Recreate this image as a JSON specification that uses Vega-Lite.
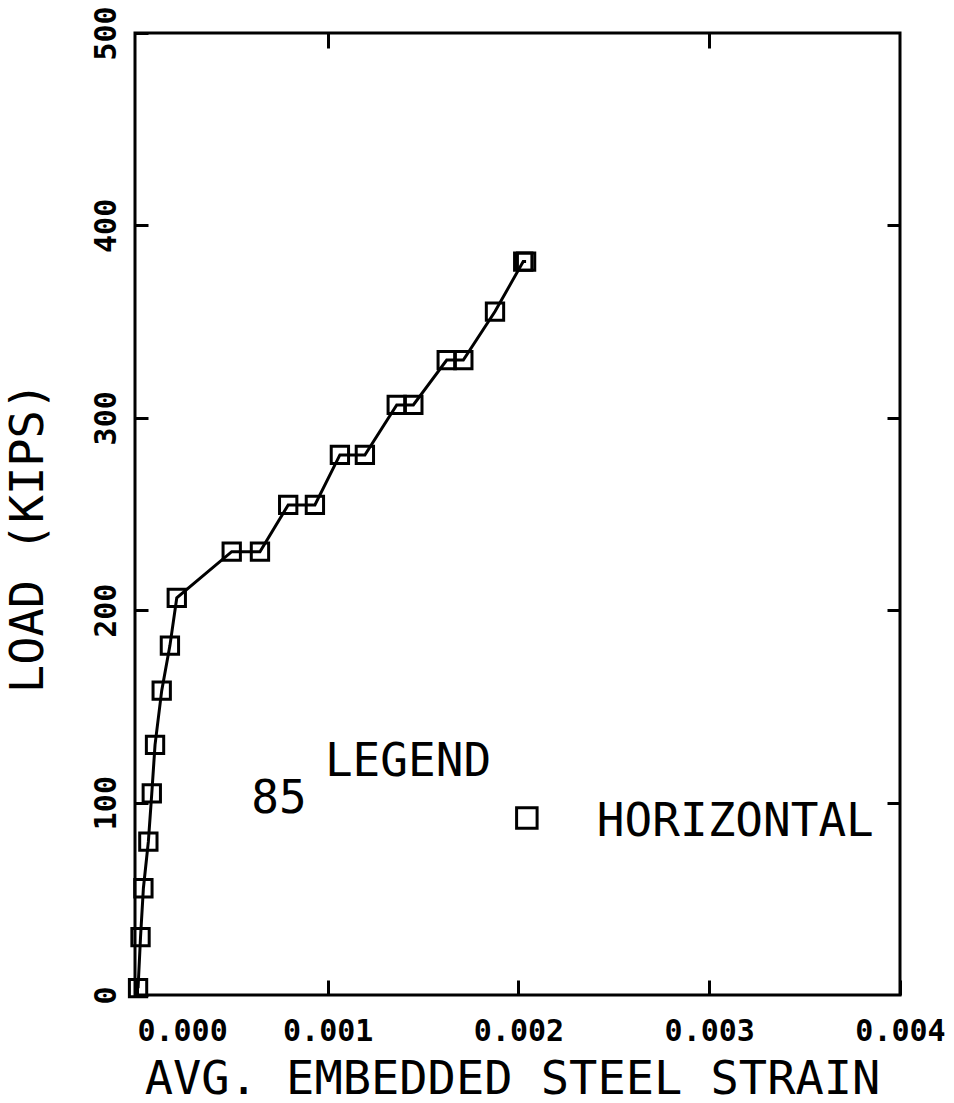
{
  "$schema": "https://vega.github.io/schema/vega-lite/v6.json",
  "width": 765,
  "height": 962,
  "autosize": {"type": "none"},
  "padding": {"left": 135, "top": 33, "right": 54, "bottom": 108},
  "background": "white",
  "config": {
    "view": {"stroke": "black", "strokeWidth": 3},
    "font": "DejaVu Sans Mono",
    "axis": {
      "domain": false,
      "grid": false,
      "tickColor": "black",
      "tickWidth": 3,
      "labelColor": "black",
      "labelFont": "DejaVu Sans Mono",
      "labelFontSize": 30,
      "labelFontWeight": "bold",
      "labelOverlap": false,
      "labelFlush": false,
      "titleColor": "black",
      "titleFont": "DejaVu Sans Mono",
      "titleFontSize": 47,
      "titleFontWeight": "normal"
    }
  },
  "datasets": {
    "curve": [
      {"strain": 0.000006, "load": 3.6},
      {"strain": 0.000019, "load": 30.1},
      {"strain": 0.000034, "load": 55.5},
      {"strain": 0.000060, "load": 79.7},
      {"strain": 0.000078, "load": 104.8},
      {"strain": 0.000095, "load": 130.0},
      {"strain": 0.000130, "load": 158.2},
      {"strain": 0.000173, "load": 181.6},
      {"strain": 0.000209, "load": 206.4},
      {"strain": 0.000497, "load": 230.4},
      {"strain": 0.000645, "load": 230.4},
      {"strain": 0.000793, "load": 254.7},
      {"strain": 0.000933, "load": 254.7},
      {"strain": 0.001064, "load": 280.7},
      {"strain": 0.001195, "load": 280.7},
      {"strain": 0.001362, "load": 306.7},
      {"strain": 0.001449, "load": 306.7},
      {"strain": 0.001624, "load": 330.0},
      {"strain": 0.001711, "load": 330.0},
      {"strain": 0.001877, "load": 355.2},
      {"strain": 0.002025, "load": 381.2},
      {"strain": 0.002040, "load": 381.2}
    ],
    "labels_center": [
      {"text": "LEGEND", "strain": 0.001421, "load": 113.8},
      {"text": "85", "strain": 0.000745, "load": 94.6}
    ],
    "labels_left": [
      {"text": "HORIZONTAL", "strain": 0.002411, "load": 82.6}
    ],
    "legend_symbol": [
      {"strain": 0.002044, "load": 92.0}
    ]
  },
  "layer": [
    {
      "data": {"name": "curve"},
      "mark": {"type": "line", "color": "black", "strokeWidth": 3},
      "encoding": {
        "x": {
          "field": "strain",
          "type": "quantitative",
          "scale": {"domain": [-0.00001, 0.004], "nice": false, "zero": false},
          "axis": {
            "orient": "bottom",
            "values": [0, 0.001, 0.002, 0.003, 0.004],
            "format": ".3f",
            "title": "AVG. EMBEDDED STEEL STRAIN",
            "tickSize": -15,
            "labelBaseline": "alphabetic",
            "labelPadding": 60,
            "labelAlign": {"condition": {"test": "datum.value == 0", "value": "left"}, "value": "center"},
            "titleX": 377,
            "titleY": 98,
            "titleAlign": "center",
            "titleBaseline": "alphabetic"
          }
        },
        "y": {
          "field": "load",
          "type": "quantitative",
          "scale": {"domain": [0, 500], "nice": false},
          "axis": {
            "orient": "left",
            "values": [0, 100, 200, 300, 400, 500],
            "title": "LOAD (KIPS)",
            "tickSize": -13,
            "labelAngle": -90,
            "labelAlign": "center",
            "labelBaseline": "alphabetic",
            "labelPadding": 33,
            "titleAngle": -90,
            "titleX": -93,
            "titleY": 504,
            "titleAlign": "center",
            "titleBaseline": "alphabetic"
          }
        }
      }
    },
    {
      "data": {"name": "curve"},
      "mark": {"type": "point", "shape": "square", "size": 300, "filled": false, "stroke": "black", "strokeWidth": 3, "opacity": 1},
      "encoding": {
        "x": {
          "field": "strain",
          "type": "quantitative",
          "axis": {"orient": "top", "values": [0.001, 0.003], "labels": false, "title": null, "tickSize": -15}
        },
        "y": {
          "field": "load",
          "type": "quantitative",
          "axis": {"orient": "right", "values": [100, 200, 300, 400], "labels": false, "title": null, "tickSize": -13}
        }
      }
    },
    {
      "data": {"name": "labels_center"},
      "mark": {"type": "text", "font": "DejaVu Sans Mono", "fontSize": 46, "align": "center", "baseline": "alphabetic", "color": "black"},
      "encoding": {
        "x": {"field": "strain", "type": "quantitative", "axis": null},
        "y": {"field": "load", "type": "quantitative", "axis": null},
        "text": {"field": "text"}
      }
    },
    {
      "data": {"name": "labels_left"},
      "mark": {"type": "text", "font": "DejaVu Sans Mono", "fontSize": 46, "align": "left", "baseline": "alphabetic", "color": "black"},
      "encoding": {
        "x": {"field": "strain", "type": "quantitative", "axis": null},
        "y": {"field": "load", "type": "quantitative", "axis": null},
        "text": {"field": "text"}
      }
    },
    {
      "data": {"name": "legend_symbol"},
      "mark": {"type": "point", "shape": "square", "size": 420, "filled": false, "stroke": "black", "strokeWidth": 3, "opacity": 1},
      "encoding": {
        "x": {"field": "strain", "type": "quantitative", "axis": null},
        "y": {"field": "load", "type": "quantitative", "axis": null}
      }
    }
  ],
  "resolve": {"axis": {"x": "independent", "y": "independent"}}
}
